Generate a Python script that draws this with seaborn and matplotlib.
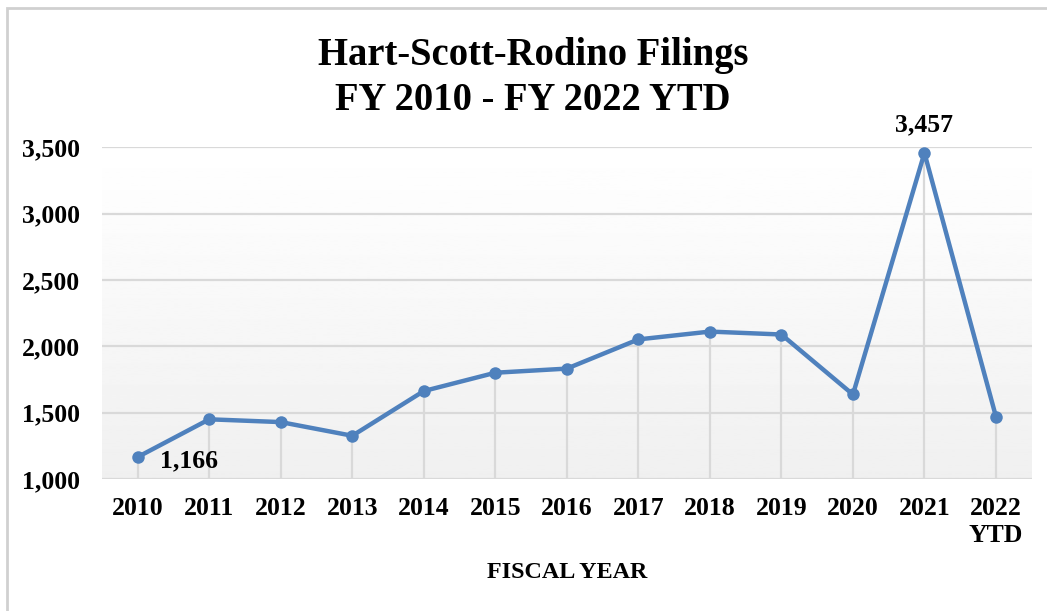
import numpy as np
import pandas as pd
import matplotlib
matplotlib.use("Agg")
import matplotlib.pyplot as plt
import seaborn as sns
from matplotlib.patches import Rectangle
from matplotlib.ticker import FuncFormatter

# Données HSR par année fiscale
years = ["2010", "2011", "2012", "2013", "2014", "2015", "2016",
         "2017", "2018", "2019", "2020", "2021", "2022\nYTD"]
filings = [1166, 1450, 1429, 1326, 1663, 1801, 1832,
           2052, 2111, 2089, 1637, 3457, 1470]
y_ticks = [1000, 1500, 2000, 2500, 3000, 3500]

df = pd.DataFrame({"year": years, "filings": filings})
df["pos"] = range(len(df))

sns.set_style("white")
plt.rcParams["font.family"] = ["Liberation Serif", "DejaVu Serif"]
plt.rcParams["font.weight"] = "bold"
plt.rcParams["text.color"] = "black"
plt.rcParams["xtick.color"] = "black"
plt.rcParams["ytick.color"] = "black"
plt.rcParams["axes.labelcolor"] = "black"

blue = "#4f81bd"
grid_col = "#d9d9d9"

fig = plt.figure(figsize=(10.47, 6.11), dpi=100)
ax = fig.add_axes([0.0974, 0.216, 0.888, 0.543])

# fond dégradé de la zone de tracé (blanc en haut, gris clair en bas)
grad = np.linspace(1.0, 0.94, 256).reshape(-1, 1)
ax.imshow(grad, cmap="gray", vmin=0, vmax=1, aspect="auto",
          extent=(-0.5, 12.5, 1000, 3500), zorder=0, origin="upper")
ax.set_ylim(1000, 3500)
ax.set_xlim(-0.5, 12.5)

# lignes de grille horizontales
for t in y_ticks:
    ax.axhline(t, color=grid_col, lw=1.6, zorder=1)

# lignes de projection
ax.vlines(df["pos"], 1000, df["filings"], color=grid_col, lw=1.6, zorder=1)

sns.lineplot(data=df, x="pos", y="filings", ax=ax, color=blue, lw=3.2,
             marker="o", markersize=9, markeredgewidth=0, zorder=3)

ax.set_xticks(df["pos"])
ax.set_xticklabels(years, fontsize=18.5, fontweight="bold")
ax.set_yticks(y_ticks)
ax.yaxis.set_major_formatter(FuncFormatter(lambda v, p: f"{int(v):,}"))
for lab in ax.get_yticklabels():
    lab.set_fontsize(18.5)
    lab.set_fontweight("bold")
ax.tick_params(axis="x", length=0, pad=13)
ax.tick_params(axis="y", length=0, pad=16)
for s in ax.spines.values():
    s.set_visible(False)

ax.set_xlabel("FISCAL YEAR", fontsize=17.4, fontweight="bold", labelpad=11)
ax.set_ylabel("")

# étiquettes de données
ax.annotate(f"{filings[0]:,}", (0, filings[0]), xytext=(22, -4),
            textcoords="offset pixels", ha="left", va="center",
            fontsize=18.5, fontweight="bold")
ax.annotate(f"{filings[11]:,}", (11, filings[11]), xytext=(0, 28),
            textcoords="offset pixels", ha="center", va="center",
            fontsize=18.5, fontweight="bold")

fig.text(0.509, 0.873, "Hart-Scott-Rodino Filings\nFY 2010 - FY 2022 YTD",
         ha="center", va="center", fontsize=27.8, fontweight="bold",
         linespacing=1.29)

# cadre du graphique
fig.patches.append(Rectangle((7 / 1047, -0.1), 1.2, 1.1 - 8 / 611,
                             transform=fig.transFigure, fill=False,
                             edgecolor="#d0d0d0", lw=2))

# texte du document coupé en haut
fig.text(0.0, 1.0 + 2 / 611, "million in 2010 to 6 million in 2021.",
         ha="left", va="baseline", fontsize=17, fontweight="normal")

fig.savefig("out.png", dpi=100)
